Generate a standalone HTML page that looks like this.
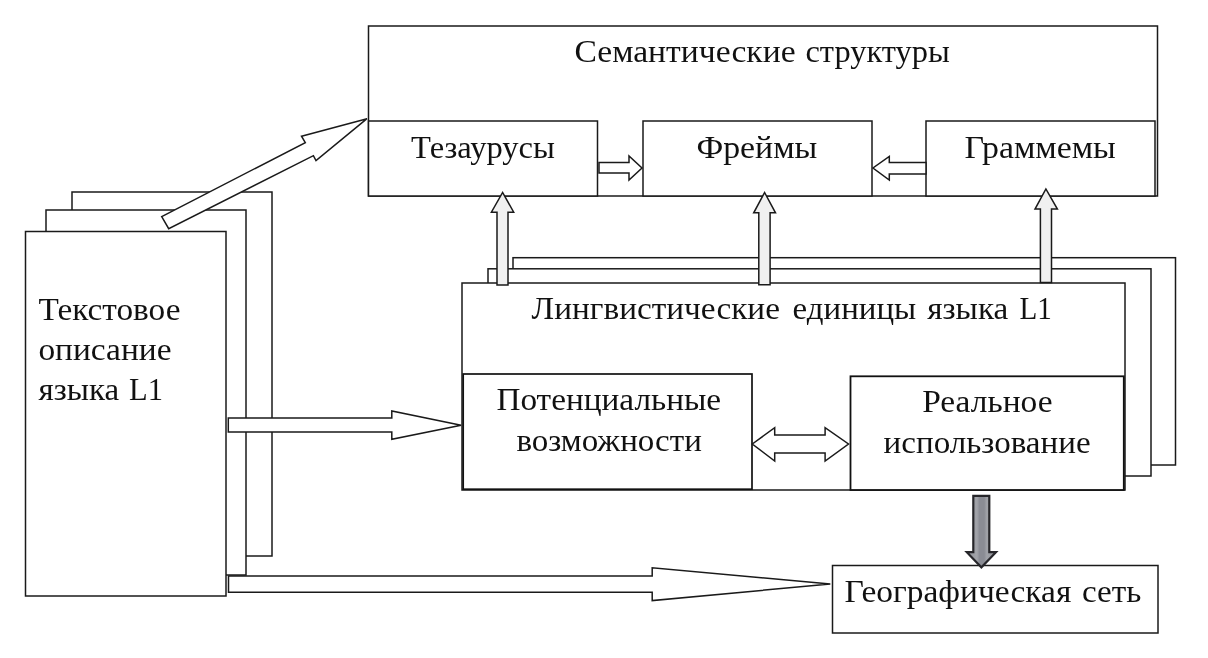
<!DOCTYPE html>
<html><head><meta charset="utf-8"><style>
html,body{margin:0;padding:0;background:#fff;width:1208px;height:658px;overflow:hidden}
svg{display:block}
text{font-family:"Liberation Serif",serif;fill:#111;stroke:#111;stroke-width:0}
</style></head><body>
<svg width="1208" height="658" viewBox="0 0 1208 658">
<g>
<rect x="0" y="0" width="1208" height="658" fill="#fff"/>
<rect x="72" y="192" width="200.00" height="364.00" fill="#fff" stroke="#1a1a1a" stroke-width="1.5" />
<rect x="46" y="210" width="200.00" height="365.00" fill="#fff" stroke="#1a1a1a" stroke-width="1.5" />
<rect x="25.5" y="231.5" width="200.50" height="364.50" fill="#fff" stroke="#1a1a1a" stroke-width="1.5" />
<rect x="368.5" y="26" width="789.00" height="170.00" fill="#fff" stroke="#1a1a1a" stroke-width="1.5" />
<rect x="368.5" y="121" width="229.00" height="75.00" fill="#fff" stroke="#1a1a1a" stroke-width="1.5" />
<rect x="643" y="121" width="229.00" height="75.00" fill="#fff" stroke="#1a1a1a" stroke-width="1.5" />
<rect x="926" y="121" width="229.00" height="75.00" fill="#fff" stroke="#1a1a1a" stroke-width="1.5" />
<rect x="513" y="257.7" width="662.50" height="207.30" fill="#fff" stroke="#1a1a1a" stroke-width="1.5" />
<rect x="488" y="268.8" width="663.00" height="207.20" fill="#fff" stroke="#1a1a1a" stroke-width="1.5" />
<rect x="462" y="283" width="663.00" height="207.00" fill="#fff" stroke="#1a1a1a" stroke-width="1.5" />
<rect x="463.2" y="374" width="288.80" height="115.20" fill="#fff" stroke="#111" stroke-width="1.7" />
<rect x="850.5" y="376.3" width="273.30" height="113.70" fill="#fff" stroke="#111" stroke-width="1.8" />
<rect x="832.5" y="565.5" width="325.50" height="67.50" fill="#fff" stroke="#1a1a1a" stroke-width="1.5" />
<polygon points="161.7,216.6 305.3,142.6 301.5,136.2 367,118.7 316,160.6 313.4,155.7 168.7,228.7" fill="#fff" stroke="#1a1a1a" stroke-width="1.5" stroke-linejoin="miter"/>
<polygon points="599,162.5 629,162.5 629,156 642,168 629,180 629,173 599,173" fill="#fff" stroke="#1a1a1a" stroke-width="1.5" stroke-linejoin="miter"/>
<polygon points="926,162.4 889.3,162.4 889.3,156.5 873,168 889.3,180 889.3,174 926,174" fill="#fff" stroke="#1a1a1a" stroke-width="1.5" stroke-linejoin="miter"/>
<polygon points="497,285 497,212.2 491.4,212.2 502.6,192.5 513.7,212.2 508,212.2 508,285" fill="#f0f0f0" stroke="#1a1a1a" stroke-width="1.5" stroke-linejoin="miter"/>
<polygon points="758.8,284.7 758.8,212.8 753.7,212.8 764.6,192.5 775.5,212.8 770.1,212.8 770.1,284.7" fill="#f0f0f0" stroke="#1a1a1a" stroke-width="1.5" stroke-linejoin="miter"/>
<polygon points="1040.4,282.4 1040.4,209.1 1035,209.1 1045.9,189 1057.4,209.1 1051.5,209.1 1051.5,282.4" fill="#f0f0f0" stroke="#1a1a1a" stroke-width="1.5" stroke-linejoin="miter"/>
<polygon points="228.3,418 391.8,418 391.8,411 461.1,425.2 391.8,439.3 391.8,432 228.3,432" fill="#fff" stroke="#1a1a1a" stroke-width="1.5" stroke-linejoin="miter"/>
<polygon points="228.5,576 652.2,576 652.2,567.7 830.3,584 652.2,600.6 652.2,592.3 228.5,592.3" fill="#fff" stroke="#1a1a1a" stroke-width="1.5" stroke-linejoin="miter"/>
<polygon points="752.3,444 774.7,427.7 774.7,435 825.1,435 825.1,427.7 848.5,444 825.1,461 825.1,453 774.7,453 774.7,461" fill="#fff" stroke="#1a1a1a" stroke-width="1.5" stroke-linejoin="miter"/>
<defs><linearGradient id="g" gradientUnits="userSpaceOnUse" x1="965" x2="998" y1="0" y2="0"><stop offset="0" stop-color="#8a8c92"/><stop offset="0.36" stop-color="#a2a4aa"/><stop offset="0.44" stop-color="#8a8c94"/><stop offset="0.58" stop-color="#8a8c94"/><stop offset="0.66" stop-color="#a0a2a8"/><stop offset="1" stop-color="#8a8c92"/></linearGradient></defs>
<polygon points="973.3,495.8 989.3,495.8 989.3,552.2 996,552.2 981.4,567.3 966.8,552.2 973.3,552.2" fill="url(#g)" stroke="#26262a" stroke-width="2.2" stroke-linejoin="miter"/>
<g style="filter:grayscale(1)">
<text x="574.4" y="62.1" font-size="32" textLength="221.16" lengthAdjust="spacingAndGlyphs">Семантические</text>
<text x="805.4" y="62.1" font-size="32" textLength="144.37" lengthAdjust="spacingAndGlyphs">структуры</text>
<text x="411.0" y="157.7" font-size="32" textLength="143.93" lengthAdjust="spacingAndGlyphs">Тезаурусы</text>
<text x="696.4" y="157.5" font-size="32" textLength="120.95" lengthAdjust="spacingAndGlyphs">Фреймы</text>
<text x="964.6" y="157.6" font-size="32" textLength="151.21" lengthAdjust="spacingAndGlyphs">Граммемы</text>
<text x="531.6" y="319" font-size="32" textLength="248.3" lengthAdjust="spacingAndGlyphs">Лингвистические</text>
<text x="792.6" y="319" font-size="32" textLength="123.6" lengthAdjust="spacingAndGlyphs">единицы</text>
<text x="927.2" y="319" font-size="32" textLength="81.13" lengthAdjust="spacingAndGlyphs">языка</text>
<text x="1019.4" y="319" font-size="32" textLength="32.34" lengthAdjust="spacingAndGlyphs">L1</text>
<text x="496.4" y="410.2" font-size="32" textLength="224.68" lengthAdjust="spacingAndGlyphs">Потенциальные</text>
<text x="516.4" y="450.8" font-size="32" textLength="185.41" lengthAdjust="spacingAndGlyphs">возможности</text>
<text x="922.2" y="411.9" font-size="32" textLength="130.32" lengthAdjust="spacingAndGlyphs">Реальное</text>
<text x="883.6" y="452.6" font-size="32" textLength="206.95" lengthAdjust="spacingAndGlyphs">использование</text>
<text x="38.4" y="319.8" font-size="32" textLength="142.06" lengthAdjust="spacingAndGlyphs">Текстовое</text>
<text x="38.4" y="360.2" font-size="32" textLength="133.07" lengthAdjust="spacingAndGlyphs">описание</text>
<text x="38.6" y="400.2" font-size="32" textLength="80.64" lengthAdjust="spacingAndGlyphs">языка</text>
<text x="129.0" y="400.2" font-size="32" textLength="33.93" lengthAdjust="spacingAndGlyphs">L1</text>
<text x="844.6" y="601.8" font-size="32" textLength="226.77" lengthAdjust="spacingAndGlyphs">Географическая</text>
<text x="1082.0" y="601.8" font-size="32" textLength="59.42" lengthAdjust="spacingAndGlyphs">сеть</text>
</g>
</g>
</svg>
</body></html>
